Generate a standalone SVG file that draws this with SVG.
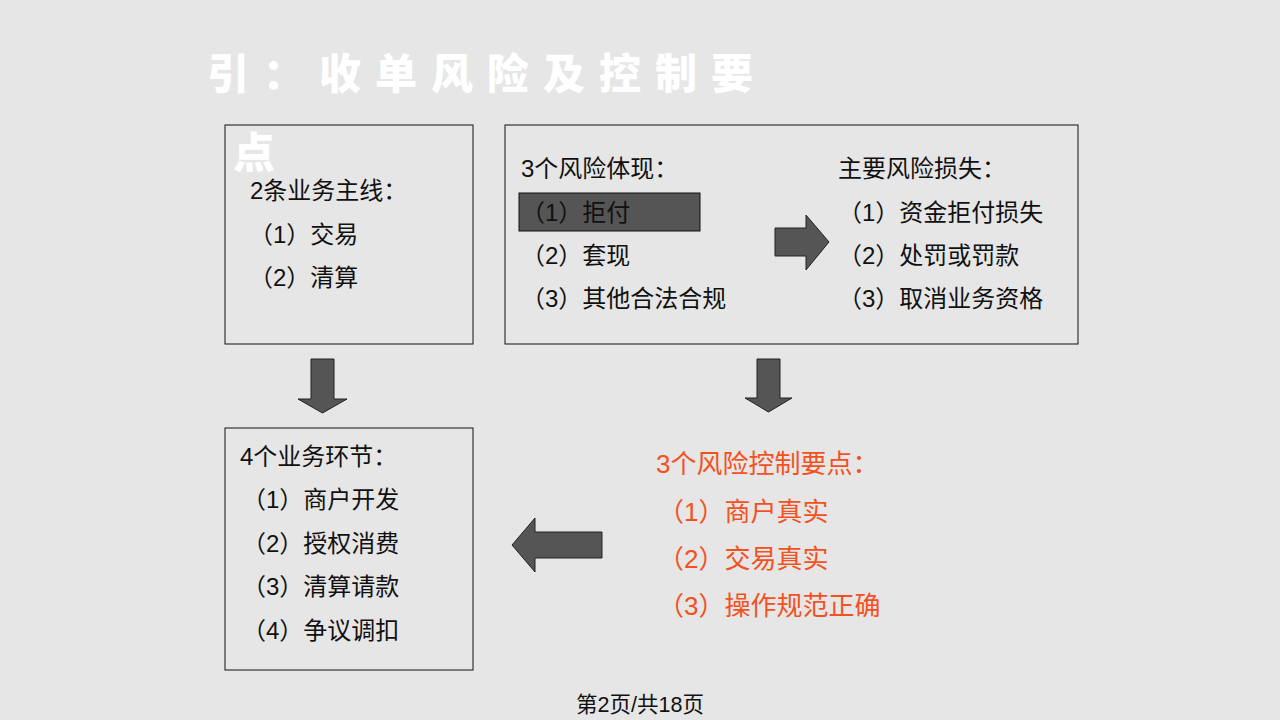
<svg xmlns="http://www.w3.org/2000/svg" width="1280" height="720" viewBox="0 0 1280 720">
<style>
.t{font-family:"Liberation Sans","Noto Sans CJK SC",sans-serif;font-size:24px;fill:#111}
.r{font-family:"Liberation Sans","Noto Sans CJK SC",sans-serif;font-size:26px;fill:#f4511e}
.box{fill:none;stroke:#111;stroke-width:1}
.arr{fill:#555;stroke:#222;stroke-width:1}
.title{font-family:"Noto Sans CJK SC",sans-serif;font-weight:900;font-size:42px;fill:#fff;letter-spacing:14px}
</style>
<rect width="1280" height="720" fill="#e6e6e6"/>
<g id="title">
<text class="title" x="207" y="89">引：收单风险及控制要</text>
<text class="title" x="233" y="168">点</text>
</g>
<g id="lines">
<rect class="box" x="225" y="125" width="248" height="219"/>
<text class="t" x="250" y="199">2条业务主线：</text>
<text class="t" x="249" y="243">（1）交易</text>
<text class="t" x="249" y="286">（2）清算</text>
</g>
<g id="risks">
<rect class="box" x="505" y="125" width="573" height="219"/>
<text class="t" x="521" y="177">3个风险体现：</text>
<rect x="519" y="193" width="181" height="38" fill="#555" stroke="#111"/>
<text class="t" x="521" y="221">（1）拒付</text>
<text class="t" x="521" y="264">（2）套现</text>
<text class="t" x="521" y="307">（3）其他合法合规</text>
<text class="t" x="838" y="177">主要风险损失：</text>
<text class="t" x="838" y="221">（1）资金拒付损失</text>
<text class="t" x="838" y="264">（2）处罚或罚款</text>
<text class="t" x="838" y="307">（3）取消业务资格</text>
</g>
<g id="links">
<polygon class="arr" points="775,228 806,228 806,215 829,242 806,270 806,256 775,256"/>
<polygon class="arr" points="311,359 334,359 334,399 347,399 322.5,413 298,399 311,399"/>
<polygon class="arr" points="757,359 780,359 780,398 792,398 768.5,412 745,398 757,398"/>
<polygon class="arr" points="602,532 535,532 535,518 512,545 535,572 535,558 602,558"/>
</g>
<g id="steps">
<rect class="box" x="225" y="428" width="248" height="242"/>
<text class="t" x="240" y="465">4个业务环节：</text>
<text class="t" x="242" y="508">（1）商户开发</text>
<text class="t" x="242" y="552">（2）授权消费</text>
<text class="t" x="242" y="595">（3）清算请款</text>
<text class="t" x="242" y="639">（4）争议调扣</text>
</g>
<g id="controls">
<text class="r" x="656" y="473">3个风险控制要点：</text>
<text class="r" x="658" y="521">（1）商户真实</text>
<text class="r" x="658" y="568">（2）交易真实</text>
<text class="r" x="658" y="615">（3）操作规范正确</text>
</g>
<text class="t" x="640" y="712" text-anchor="middle" style="font-size:21.5px">第2页/共18页</text>
</svg>
